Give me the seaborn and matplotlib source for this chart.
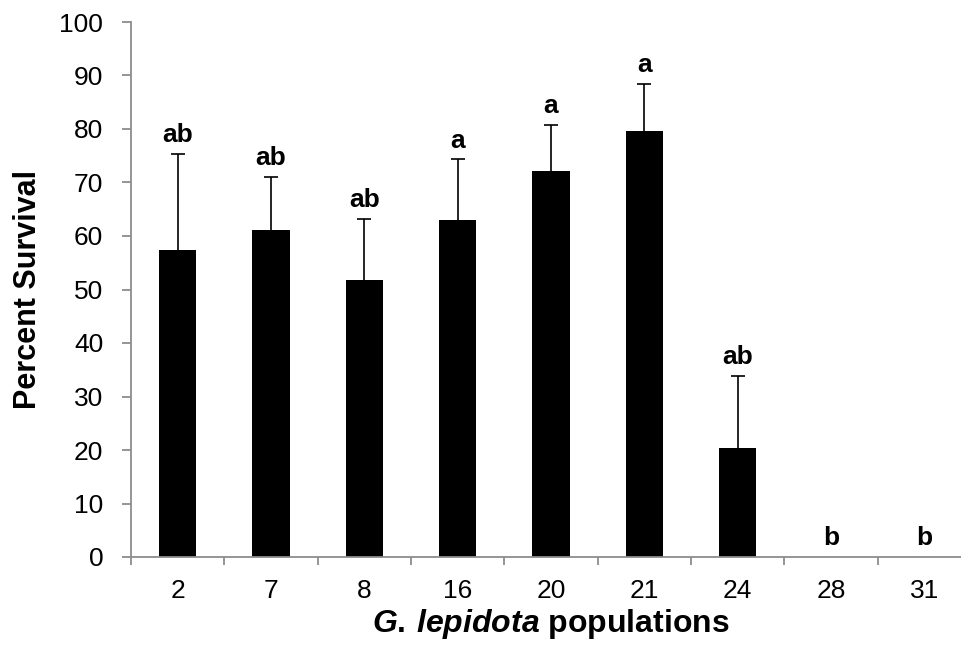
import numpy as np
import pandas as pd
import seaborn as sns
import matplotlib.pyplot as plt
from matplotlib.ticker import FixedLocator

# podaci ocitani s grafa
populations = ['2', '7', '8', '16', '20', '21', '24', '28', '31']
survival = [57.4, 61.1, 51.8, 62.9, 72.2, 79.6, 20.3, 0.0, 0.0]
sem_upper = [17.9, 9.9, 11.4, 11.4, 8.5, 8.8, 13.6, 0.0, 0.0]
letters = ['ab', 'ab', 'ab', 'a', 'a', 'a', 'ab', 'b', 'b']

df = pd.DataFrame({'pop': populations, 'surv': survival, 'sem': sem_upper, 'let': letters})

sns.set_style('white')
plt.rcParams['font.family'] = ['Liberation Sans', 'DejaVu Sans']
plt.rcParams['text.color'] = 'black'
plt.rcParams['axes.labelcolor'] = 'black'
plt.rcParams['xtick.color'] = 'black'
plt.rcParams['ytick.color'] = 'black'
plt.rcParams['mathtext.fontset'] = 'custom'
plt.rcParams['mathtext.it'] = 'Liberation Sans:italic:bold'
plt.rcParams['mathtext.rm'] = 'Liberation Sans:bold'

grey = '#8c8c8c'

fig = plt.figure(figsize=(9.61, 6.49), dpi=100)
ax = fig.add_axes([131 / 961, 1 - 557 / 649, 840 / 961, 535 / 649])

sns.barplot(data=df, x='pop', y='surv', order=populations, color='black',
            width=0.4, errorbar=None, saturation=1, linewidth=0, ax=ax)

# samo gornje pogreske
pos = np.arange(len(populations))
mask = df['sem'] > 0
eb = ax.errorbar(pos[mask], df['surv'][mask], yerr=[np.zeros(mask.sum()), df['sem'][mask]],
                 fmt='none', ecolor='black', elinewidth=1.2, capsize=5, capthick=1.2)
eb[1][0].set_visible(False)  # bez donje kapice

for i, row in df.iterrows():
    ax.annotate(row['let'], (i, row['surv'] + row['sem']), xytext=(0, 8.6),
                textcoords='offset points', ha='center', va='baseline',
                fontsize=19, fontweight='bold')

ax.set_xlim(-0.5, len(populations) - 0.5)
ax.set_ylim(0, 100)
ax.set_yticks(np.arange(0, 101, 10))

for s in ['top', 'right']:
    ax.spines[s].set_visible(False)
for s in ['left', 'bottom']:
    ax.spines[s].set_color(grey)
    ax.spines[s].set_linewidth(1.3)

ax.tick_params(axis='y', direction='out', length=6.5, width=1.3, color=grey,
               labelsize=19, pad=13.5, left=True)
ax.tick_params(axis='x', which='major', length=0, labelsize=19, pad=15.5)
ax.xaxis.set_minor_locator(FixedLocator(np.arange(-0.5, len(populations), 1.0)))
ax.tick_params(axis='x', which='minor', direction='out', length=6, width=1.3,
               color=grey, bottom=True)

ax.set_ylabel('Percent Survival', fontsize=22, fontweight='bold', labelpad=12)
ax.set_xlabel(r'$\it{G.\,lepidota}$ populations', fontsize=23, fontweight='bold', labelpad=3)

fig.savefig('out.png', dpi=100)
